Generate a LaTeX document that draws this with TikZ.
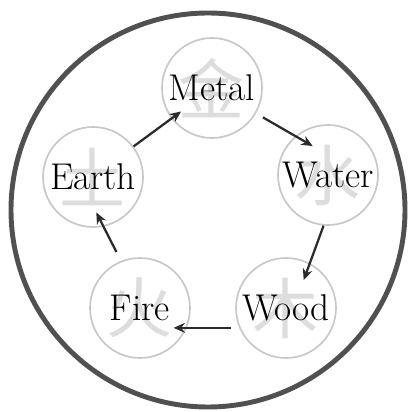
\documentclass[tikz,border=0pt]{standalone}
\usepackage{fontspec}
\usepackage{tikz}
\usetikzlibrary{arrows.meta}
\newfontfamily\cjk{Noto Sans CJK SC}
\definecolor{ringGray}{HTML}{505050}
\definecolor{discGray}{HTML}{C8C8C8}
\definecolor{glyphGray}{HTML}{DDDDDD}
\definecolor{arrowGray}{HTML}{2A2A2A}

\begin{document}
\begin{tikzpicture}[
  every node/.style={font=\fontsize{26.5}{26.5}\selectfont},
  glyph/.style={font=\cjk\fontsize{47}{47}\selectfont, text=glyphGray},
  phase/.style={circle, draw=discGray, line width=1.2pt, fill=white,
    minimum size=2.5cm, inner sep=0pt,
    path picture={\node[glyph] at (path picture bounding box.center) {#1};}},
  arr/.style={-{Stealth[length=8pt, width=7pt]}, line width=1.6pt, arrowGray},
]

% Frame
\useasboundingbox (0,0) rectangle (10.275,10.3);

% Outer ring
\node[circle, draw=ringGray, line width=3.5pt, fill=white,
  minimum size=9.85cm, inner sep=0pt] (ring) at (5.2, 5.05) {};

% Five phases
\node[phase=金] (metal) at (5.30, 8.10) {Metal};
\node[phase=水] (water) at (8.20, 5.925) {Water};
\node[phase=木] (wood)  at (7.15, 2.60) {Wood};
\node[phase=火] (fire)  at (3.50, 2.60) {Fire};
\node[phase=土] (earth) at (2.325, 5.875) {Earth};

% Generating cycle
\draw[arr, shorten >=-0.3cm] (earth.37) -- (metal.217);
\draw[arr, shorten <=0.2cm, shorten >=-0.5cm] (metal.-30) -- (water.130);
\draw[arr, shorten >=-0.45cm] (water.-95) -- (wood.62);
\draw[arr, shorten <=0.2cm, shorten >=-0.33cm] (wood.203) -- (fire.-23);
\draw[arr, shorten <=0.25cm, shorten >=-0.4cm] (fire.112) -- (earth.-78);

\end{tikzpicture}
\end{document}
